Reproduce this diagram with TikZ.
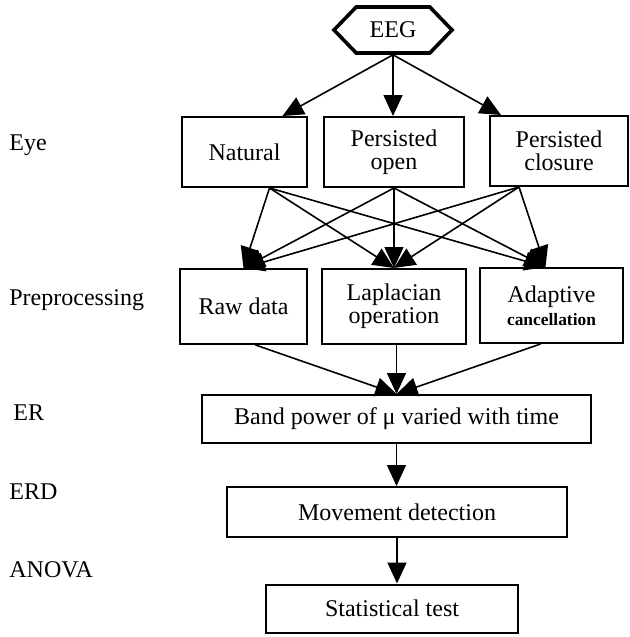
\documentclass[tikz,border=0pt]{standalone}
\usepackage{fontspec}
\setmainfont{Liberation Serif}
\usetikzlibrary{shapes.geometric, shapes.symbols, arrows.meta, calc}
\tikzset{
	boxnode/.style={
			draw=black,
			line width=1pt,
			fill=white,
			align=center,
			inner sep=0pt,
			font=\fontsize{12}{11.5}\selectfont
		},
	hexnode/.style={
			boxnode,
			shape=signal,
			signal to=west and east,
			signal pointer angle=92,
			line width=1.8pt,
			minimum width=59pt,
			minimum height=23pt
		},
	rowone/.style={
			boxnode,
			minimum height=35pt
		},
	rowtwo/.style={
			boxnode,
			minimum height=37.5pt
		},
	flatnode/.style={
			boxnode,
			minimum height=24pt
		},
	sidelabel/.style={
			anchor=west,
			inner sep=0pt,
			font=\fontsize{12}{11.5}\selectfont
		},
	link/.style={
			line width=0.8pt,
			-{Triangle[length=10.5pt,width=9.5pt]}
		}
}

\begin{document}
\begin{tikzpicture}[x=0.5pt, y=-0.5pt]
\useasboundingbox (0,0) rectangle (629,637);

\node[hexnode] (eeg) at (393,30) {EEG};

\node[rowone, minimum width=62.5pt] (natural) at (244.5,152) {Natural};
\node[rowone, minimum width=70pt] (open) at (394,152) {Persisted\\open};
\node[rowone, minimum width=69pt] (closure) at (559,151) {Persisted\\closure};

\node[rowtwo, minimum width=63.5pt] (raw) at (243.5,306.5) {Raw data};
\node[rowtwo, minimum width=72pt] (lapl) at (394,306.5) {Laplacian\\operation};
\node[rowtwo, minimum width=71.5pt] (adapt) at (551.5,305.5) {Adaptive\\{\fontsize{8.7}{10}\selectfont\bfseries cancellation}};

\node[flatnode, minimum width=194.5pt] (band) at (396.5,419) {Band power of μ varied with time};
\node[flatnode, minimum width=170pt, minimum height=25pt] (move) at (397,512) {Movement detection};
\node[flatnode, minimum width=126pt] (stat) at (392,608.5) {Statistical test};

\node[sidelabel] (eye) at (9,145) {Eye};
\node[sidelabel] (prep) at (9,300) {Preprocessing};
\node[sidelabel] (er) at (13,413) {ER};
\node[sidelabel] (erd) at (9,492) {ERD};
\node[sidelabel] (anova) at (9,570) {ANOVA};

% EEG to eye states
\draw[link] (eeg.south) -- ($(natural.north)+(38,0)$);
\draw[link] (eeg.south) -- (eeg.south |- open.north);
\draw[link] (eeg.south) -- ($(closure.north west)+(12,0)$);

% eye states to preprocessing
\foreach \src/\dx in {natural/25, open/0, closure/-40} {
	\draw[link] ($(\src.south)+(\dx,0)$) -- (raw.north);
	\draw[link] ($(\src.south)+(\dx,0)$) -- (lapl.north);
	\draw[link] ($(\src.south)+(\dx,0)$) -- ($(adapt.north)+(-6,0)$);
}

% preprocessing to band power
\draw[link] ($(raw.south)+(12,0)$) -- (band.north);
\draw[link] (lapl.south -| band.north) -- (band.north);
\draw[link] ($(adapt.south)+(-11,0)$) -- (band.north);

\draw[link] (band.south) -- (band.south |- move.north);
\draw[link] (move.south) -- (move.south |- stat.north);

\end{tikzpicture}
\end{document}
